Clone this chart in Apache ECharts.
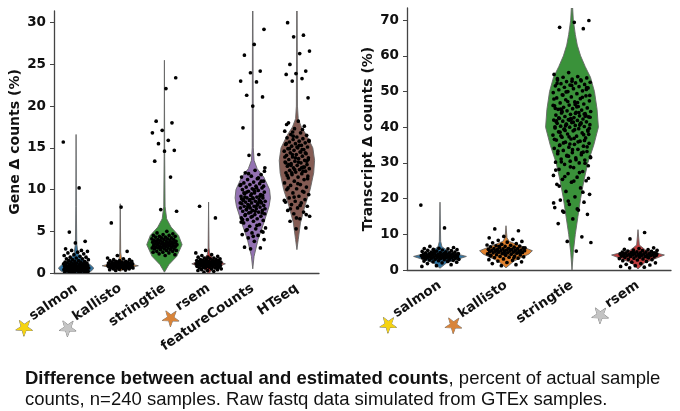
<!DOCTYPE html>
<html>
<head>
<meta charset="utf-8">
<script src="https://cdn.jsdelivr.net/npm/echarts@6/dist/echarts.min.js"></script>
<style>
html, body { margin: 0; padding: 0; background: #fff; }
#chart { width: 680px; height: 411px; }
</style>
</head>
<body>
<div id="chart"></div>
<script>
// categories
var geneTools = ['salmon', 'kallisto', 'stringtie', 'rsem', 'featureCounts', 'HTseq'];
var txTools = ['salmon', 'kallisto', 'stringtie', 'rsem'];
var geneColors = ['#3274A1', '#E1812C', '#3A923A', '#C03D3E', '#9372B2', '#845B53'];
var txColors = ['#3274A1', '#E1812C', '#3A923A', '#C03D3E'];
var geneStars = { salmon: 'gold', kallisto: 'silver', rsem: 'bronze' };
var txStars = { salmon: 'gold', kallisto: 'bronze', rsem: 'silver' };
var geneYMax = 31.4, geneYStep = 5;
var txYMax = 73.4, txYStep = 10;

// violin outlines: [value, density (fraction of category width)]
var geneSalmonShape = [[0, 0.26], [0.3, 0.36], [0.6, 0.4], [1.0, 0.32], [1.5, 0.18], [2.0, 0.08], [2.5, 0.04], [3.5, 0.015], [8, 0.006], [16.6, 0]];
var geneKallistoShape = [[0.2, 0], [0.5, 0.1], [0.87, 0.41], [1.2, 0.12], [1.6, 0.03], [2.5, 0.01], [8.3, 0]];
var geneStringtieShape = [[0.1, 0], [1, 0.1], [2, 0.28], [3.4, 0.4], [4.5, 0.32], [5.5, 0.15], [6.5, 0.05], [8, 0.015], [14, 0.006], [25.5, 0]];
var geneRsemShape = [[0, 0.02], [0.5, 0.1], [1.1, 0.38], [1.6, 0.12], [2.2, 0.03], [3, 0.01], [8.5, 0]];
var geneFeatureShape = [[0.5, 0], [2, 0.03], [4, 0.12], [6, 0.25], [8, 0.37], [9, 0.4], [10, 0.38], [11.5, 0.25], [12.5, 0.1], [13.5, 0.03], [15, 0.012], [31.4, 0.005]];
var geneHtseqShape = [[2.8, 0], [4, 0.03], [6, 0.08], [8, 0.18], [10, 0.3], [12, 0.38], [13.5, 0.4], [15, 0.36], [16.5, 0.22], [17.5, 0.1], [18.5, 0.03], [20, 0.012], [31.4, 0.005]];
var txSalmonShape = [[0.5, 0], [2, 0.1], [3.8, 0.4], [5, 0.15], [6.5, 0.03], [8, 0.01], [19, 0]];
var txKallistoShape = [[0.6, 0], [2.5, 0.12], [4.5, 0.35], [5.4, 0.4], [6.5, 0.25], [8, 0.05], [9, 0.015], [12.4, 0]];
var txStringtieShape = [[0, 0], [5, 0.02], [10, 0.05], [15, 0.09], [20, 0.13], [25, 0.18], [30, 0.24], [35, 0.33], [40, 0.4], [45, 0.38], [50, 0.34], [54, 0.28], [57, 0.2], [60, 0.13], [63, 0.08], [66, 0.05], [70, 0.02], [73.4, 0.01]];
var txRsemShape = [[0.3, 0], [2, 0.1], [4.2, 0.4], [5.5, 0.12], [7, 0.02], [11.3, 0]];

// sample values (%)
var geneSalmonPts = [15.7, 10.2, 4.9, 3.8, 3.6, 2.9, 2.7, 2.7, 2.6, 2.5, 2.4, 2.3, 2.2, 2.1, 2.0, 1.9, 1.9, 1.8, 1.7, 1.7, 1.6, 1.6, 1.5, 1.5, 1.4, 1.4, 1.3, 1.3, 1.3, 1.2, 1.2, 1.2, 1.1, 1.1, 1.1, 1.0, 1.0, 1.0, 1.0, 0.9, 0.9, 0.9, 0.9, 0.8, 0.8, 0.8, 0.8, 0.8, 0.7, 0.7, 0.7, 0.7, 0.7, 0.6, 0.6, 0.6, 0.6, 0.6, 0.6, 0.5, 0.5, 0.5, 0.5, 0.5, 0.5, 0.4, 0.4, 0.4, 0.4, 0.4, 0.3, 0.3, 0.3, 0.3, 0.3, 0.2, 0.2, 0.2, 0.2, 0.1, 0.1, 0.1, 0.1, 0.05, 0.05];
var geneKallistoPts = [7.9, 6.0, 2.6, 2.1, 1.8, 1.7, 1.6, 1.6, 1.5, 1.5, 1.4, 1.4, 1.4, 1.3, 1.3, 1.3, 1.3, 1.2, 1.2, 1.2, 1.2, 1.2, 1.1, 1.1, 1.1, 1.1, 1.1, 1.1, 1.0, 1.0, 1.0, 1.0, 1.0, 1.0, 1.0, 0.95, 0.95, 0.9, 0.9, 0.9, 0.9, 0.9, 0.9, 0.85, 0.85, 0.8, 0.8, 0.8, 0.8, 0.8, 0.75, 0.75, 0.7, 0.7, 0.7, 0.7, 0.65, 0.6, 0.6, 0.6, 0.55, 0.5, 0.5, 0.45, 0.4, 0.35, 0.3];
var geneStringtiePts = [23.4, 22.1, 18.2, 18.0, 17.1, 16.8, 15.9, 15.5, 14.7, 14.6, 13.4, 11.5, 7.6, 7.4, 5.0, 4.8, 4.7, 4.6, 4.5, 4.5, 4.4, 4.4, 4.3, 4.3, 4.2, 4.2, 4.1, 4.1, 4.0, 4.0, 4.0, 3.9, 3.9, 3.9, 3.8, 3.8, 3.8, 3.7, 3.7, 3.7, 3.6, 3.6, 3.6, 3.5, 3.5, 3.5, 3.5, 3.4, 3.4, 3.4, 3.3, 3.3, 3.3, 3.3, 3.2, 3.2, 3.2, 3.1, 3.1, 3.1, 3.0, 3.0, 3.0, 2.9, 2.9, 2.9, 2.8, 2.8, 2.7, 2.7, 2.6, 2.6, 2.5, 2.5, 2.4, 2.3, 2.2, 2.1];
var geneRsemPts = [8.0, 6.6, 2.7, 2.4, 2.2, 2.1, 2.0, 1.9, 1.9, 1.8, 1.8, 1.7, 1.7, 1.6, 1.6, 1.6, 1.5, 1.5, 1.5, 1.5, 1.4, 1.4, 1.4, 1.4, 1.3, 1.3, 1.3, 1.3, 1.3, 1.2, 1.2, 1.2, 1.2, 1.2, 1.1, 1.1, 1.1, 1.1, 1.1, 1.0, 1.0, 1.0, 1.0, 1.0, 0.9, 0.9, 0.9, 0.9, 0.8, 0.8, 0.8, 0.8, 0.7, 0.7, 0.7, 0.6, 0.6, 0.6, 0.5, 0.5, 0.4, 0.4, 0.3, 0.3, 0.2, 0.1];
var geneFeaturePts = [29.2, 27.4, 26.1, 24.2, 24.0, 23.0, 22.9, 21.3, 21.1, 20.0, 17.4, 14.2, 14.1, 12.6, 12.3, 12.0, 11.8, 11.6, 11.5, 11.3, 11.2, 11.0, 10.9, 10.8, 10.7, 10.6, 10.5, 10.4, 10.3, 10.2, 10.1, 10.0, 9.9, 9.8, 9.7, 9.6, 9.5, 9.4, 9.3, 9.2, 9.1, 9.0, 9.0, 8.9, 8.8, 8.8, 8.7, 8.6, 8.6, 8.5, 8.4, 8.4, 8.3, 8.2, 8.2, 8.1, 8.0, 8.0, 7.9, 7.8, 7.8, 7.7, 7.6, 7.5, 7.5, 7.4, 7.3, 7.2, 7.1, 7.0, 6.9, 6.8, 6.7, 6.6, 6.5, 6.4, 6.3, 6.2, 6.0, 5.8, 5.6, 5.4, 5.3, 5.1, 5.0, 4.8, 4.6, 4.5, 4.2, 4.0, 3.8, 3.1, 3.0, 2.9, 10.6, 10.2, 9.7, 9.3, 9.0, 8.7, 8.5, 8.1, 7.7, 7.4, 7.0, 11.0, 9.5, 8.9, 8.3, 7.9,
  10.4, 10.0, 9.6, 9.2, 8.8, 8.4, 8.0, 7.6, 7.2, 6.8, 6.4, 11.4, 11.9, 12.2, 9.8, 9.1, 8.6, 7.3, 6.1, 5.7, 5.2, 4.9, 4.4];
var geneHtseqPts = [30.0, 28.5, 28.3, 26.6, 26.3, 25.0, 24.2, 23.9, 23.8, 23.3, 23.0, 21.0, 18.2, 18.0, 17.6, 17.3, 17.0, 16.8, 16.6, 16.5, 16.3, 16.2, 16.1, 16.0, 15.9, 15.8, 15.7, 15.6, 15.5, 15.4, 15.3, 15.2, 15.1, 15.0, 14.9, 14.8, 14.7, 14.6, 14.5, 14.4, 14.3, 14.2, 14.1, 14.0, 13.9, 13.8, 13.7, 13.6, 13.5, 13.4, 13.3, 13.2, 13.1, 13.0, 12.9, 12.8, 12.7, 12.6, 12.5, 12.4, 12.3, 12.2, 12.1, 12.0, 11.9, 11.8, 11.6, 11.5, 11.4, 11.2, 11.0, 10.8, 10.6, 10.5, 10.3, 10.1, 10.0, 9.8, 9.6, 9.4, 9.2, 9.0, 8.8, 8.6, 8.5, 8.4, 8.2, 8.0, 7.8, 7.5, 7.3, 7.1, 6.8, 6.5, 6.2, 5.4, 5.3, 15.5, 14.8, 14.2, 13.6, 13.3, 13.0, 12.7, 12.4, 13.9, 14.5, 12.9, 13.4, 15.1, 11.7, 12.2,
  16.4, 15.8, 15.3, 14.9, 14.4, 13.8, 13.2, 12.6, 12.0, 11.3, 10.7, 10.2, 9.7, 9.1, 8.7, 8.1, 7.7, 7.0, 6.6, 17.8, 17.2, 16.9];
var txSalmonPts = [18.2, 11.8, 6.6, 6.3, 6.1, 6.0, 5.9, 5.8, 5.7, 5.6, 5.5, 5.4, 5.3, 5.2, 5.1, 5.0, 5.0, 4.9, 4.8, 4.8, 4.7, 4.6, 4.6, 4.5, 4.5, 4.4, 4.4, 4.3, 4.3, 4.2, 4.2, 4.1, 4.1, 4.0, 4.0, 4.0, 3.9, 3.9, 3.8, 3.8, 3.8, 3.7, 3.7, 3.6, 3.6, 3.5, 3.5, 3.4, 3.4, 3.3, 3.3, 3.2, 3.2, 3.1, 3.0, 3.0, 2.9, 2.8, 2.7, 2.6, 2.5, 2.4, 2.3, 2.2, 2.0, 1.8, 1.5, 1.2, 1.0, 4.6, 4.2, 3.9, 3.5, 3.1, 2.8, 5.2, 4.4, 3.7];
var txKallistoPts = [11.5, 11.0, 9.4, 9.0, 8.6, 8.3, 8.0, 7.8, 7.6, 7.4, 7.2, 7.0, 6.9, 6.8, 6.7, 6.6, 6.5, 6.4, 6.3, 6.2, 6.1, 6.0, 6.0, 5.9, 5.8, 5.8, 5.7, 5.6, 5.6, 5.5, 5.5, 5.4, 5.4, 5.3, 5.3, 5.2, 5.2, 5.1, 5.0, 5.0, 4.9, 4.8, 4.8, 4.7, 4.6, 4.5, 4.4, 4.3, 4.2, 4.1, 4.0, 3.9, 3.8, 3.7, 3.6, 3.5, 3.3, 3.1, 2.9, 2.7, 2.5, 2.3, 2.1, 1.8, 1.5, 1.2, 6.2, 5.7, 5.3, 4.9, 4.5, 4.0, 3.4, 6.6];
var txStringtiePts = [69.9, 69.4, 68.0, 67.6, 55.3, 54.8, 54.2, 54.0, 53.8, 53.5, 53.2, 53.0, 52.8, 52.6, 52.4, 52.2, 52.0, 51.8, 51.6, 51.4, 51.2, 51.0, 50.8, 50.5, 50.2, 50.0,
  49.7, 49.4, 49.1, 48.8, 48.5, 48.2, 48.0, 47.7, 47.4, 47.1, 46.8, 46.5, 46.2, 46.0, 45.8, 45.6, 45.4, 45.2, 45.0,
  44.8, 44.6, 44.4, 44.2, 44.0, 43.8, 43.6, 43.4, 43.2, 43.0, 42.9, 42.7, 42.5, 42.3, 42.1, 42.0, 41.9, 41.7, 41.5, 41.3, 41.1, 41.0, 40.9, 40.7, 40.5, 40.3, 40.2, 40.0,
  39.8, 39.6, 39.4, 39.2, 39.0, 38.7, 38.4, 38.1, 37.8, 37.5, 37.2, 37.0, 36.7, 36.4, 36.1, 35.8, 35.5, 35.2, 35.0,
  34.7, 34.4, 34.1, 33.8, 33.5, 33.2, 32.9, 32.6, 32.3, 32.0, 31.7, 31.4, 31.1, 30.8, 30.5, 30.2, 30.0,
  29.6, 29.2, 28.7, 28.2, 27.6, 27.0, 26.5, 26.0, 25.4, 25.0,
  24.6, 24.0, 23.0, 22.0, 21.2, 20.5, 19.6, 19.0, 18.4, 17.5, 16.8, 16.2, 15.6, 14.3, 13.0, 9.3, 8.0, 7.7, 5.3,
  44.9, 43.1, 42.4, 41.6, 40.6, 39.1, 38.0, 36.9, 34.9, 33.0, 31.9, 47.9, 46.9, 49.0, 51.1, 52.9, 53.6, 41.2, 40.8, 42.8, 43.9, 37.6, 36.3, 35.3, 45.3, 44.1, 39.5, 38.9, 41.4, 42.6,
  48.4, 47.2, 46.1, 45.7, 44.3, 43.3, 42.2, 41.8, 41.0, 40.4, 39.7, 39.3, 38.6, 37.9, 37.3, 36.6, 35.9, 35.6, 34.5, 33.7, 33.3, 32.8, 32.1, 31.5, 30.9, 30.3, 29.9, 28.9, 28.0, 27.3, 26.2, 25.7, 24.9, 23.5, 21.8, 19.3, 18.8, 17.1, 16.5, 50.6, 51.7, 52.3, 53.3, 49.9, 48.9, 46.4, 45.1, 43.7, 42.0, 40.1];
var txRsemPts = [10.5, 8.7, 6.2, 6.0, 5.8, 5.7, 5.6, 5.5, 5.4, 5.3, 5.2, 5.1, 5.0, 5.0, 4.9, 4.8, 4.8, 4.7, 4.6, 4.6, 4.5, 4.5, 4.4, 4.4, 4.3, 4.3, 4.2, 4.2, 4.1, 4.1, 4.0, 4.0, 3.9, 3.9, 3.8, 3.8, 3.7, 3.6, 3.5, 3.4, 3.3, 3.2, 3.1, 3.0, 2.9, 2.8, 2.6, 2.4, 2.2, 2.0, 1.8, 1.6, 1.4, 1.2, 1.0, 0.8, 0.6, 4.7, 4.3, 3.9, 3.6, 5.1, 4.5];

var geneShapes = [geneSalmonShape, geneKallistoShape, geneStringtieShape, geneRsemShape, geneFeatureShape, geneHtseqShape];
var txShapes = [txSalmonShape, txKallistoShape, txStringtieShape, txRsemShape];
var genePts = [geneSalmonPts, geneKallistoPts, geneStringtiePts, geneRsemPts, geneFeaturePts, geneHtseqPts];
var txPts = [txSalmonPts, txKallistoPts, txStringtiePts, txRsemPts];

function toPoints(lists) {
  var out = [];
  lists.forEach(function (l, c) {
    l.forEach(function (v) { out.push([c, v]); });
  });
  return out;
}

function violinItem(shapes, colors) {
  return function (params, api) {
    var cat = api.value(0);
    var bw = api.size([1, 0])[0];
    var right = [], left = [];
    shapes[cat].forEach(function (s) {
      var p = api.coord([cat, s[0]]);
      right.push([p[0] + s[1] * bw, p[1]]);
      left.unshift([p[0] - s[1] * bw, p[1]]);
    });
    return {
      type: 'polygon',
      shape: { points: right.concat(left) },
      style: { fill: colors[cat], stroke: '#666', lineWidth: 0.9 }
    };
  };
}

// strip plot jitter
function pointItem(params, api) {
  var cat = api.value(0);
  var p = api.coord([cat, api.value(1)]);
  var bw = api.size([1, 0])[0];
  var j = ((params.dataIndex * 0.6180339887) % 1 - 0.5) * 0.58 * bw;
  return {
    type: 'circle',
    shape: { cx: p[0] + j, cy: p[1], r: 1.85 },
    style: { fill: '#000' }
  };
}

function star(color) {
  return { color: color, fontSize: 22, fontFamily: 'DejaVu Sans', textBorderColor: '#777', textBorderWidth: 0.8, padding: [12, 1, 0, 0] };
}
var starRich = { gold: star('#F5D311'), silver: star('#C4C4C4'), bronze: star('#D8843A') };

function xAxisFor(idx, tools, stars) {
  return {
    type: 'category', gridIndex: idx, data: tools,
    axisLine: { lineStyle: { color: '#444', width: 1.3 } },
    axisTick: { alignWithLabel: true, length: 4, lineStyle: { color: '#444' } },
    axisLabel: {
      interval: 0, rotate: 34, margin: 14,
      fontFamily: 'DejaVu Sans', fontWeight: 'bold', fontSize: 13.5, color: '#111',
      formatter: function (v) { return stars[v] ? '{' + stars[v] + '|★}' + v : v; },
      rich: starRich
    }
  };
}

function yAxisFor(idx, name, max, step) {
  return {
    type: 'value', gridIndex: idx, min: 0, max: max, interval: step,
    name: name, nameLocation: 'middle', nameGap: 32,
    nameTextStyle: { fontFamily: 'DejaVu Sans', fontWeight: 'bold', fontSize: 14, color: '#111' },
    splitLine: { show: false },
    axisLine: { show: true, lineStyle: { color: '#444', width: 1.3 } },
    axisTick: { show: true, length: 4, lineStyle: { color: '#444' } },
    axisLabel: { showMaxLabel: false, margin: 8, fontFamily: 'DejaVu Sans', fontWeight: 'bold', fontSize: 13.5, color: '#111' }
  };
}

var chart = echarts.init(document.getElementById('chart'));
var option = {
  animation: false,
  backgroundColor: '#fff',
  title: {
    text: '{b|Difference between actual and estimated counts}{n|, percent of actual sample}\n{n|counts, n=240 samples. Raw fastq data simulated from GTEx samples.}',
    left: 20, top: 363,
    textStyle: {
      fontWeight: 'normal',
      rich: {
        b: { fontFamily: 'Liberation Sans', fontWeight: 'bold', fontSize: 18.5, lineHeight: 21, color: '#111' },
        n: { fontFamily: 'Liberation Sans', fontWeight: 'normal', fontSize: 18.5, lineHeight: 21, color: '#111' }
      }
    }
  },
  grid: [
    { left: 54, width: 265, top: 11, bottom: 138 },
    { left: 407, width: 264, top: 8, bottom: 141 }
  ],
  xAxis: [xAxisFor(0, geneTools, geneStars), xAxisFor(1, txTools, txStars)],
  yAxis: [
    yAxisFor(0, 'Gene Δ counts (%)', geneYMax, geneYStep),
    yAxisFor(1, 'Transcript Δ counts (%)', txYMax, txYStep)
  ],
  series: [
    { type: 'custom', xAxisIndex: 0, yAxisIndex: 0, clip: true, renderItem: violinItem(geneShapes, geneColors), data: geneTools.map(function (t, i) { return [i]; }) },
    { type: 'custom', xAxisIndex: 1, yAxisIndex: 1, clip: true, renderItem: violinItem(txShapes, txColors), data: txTools.map(function (t, i) { return [i]; }) },
    { type: 'custom', xAxisIndex: 0, yAxisIndex: 0, clip: true, renderItem: pointItem, data: toPoints(genePts), z: 3 },
    { type: 'custom', xAxisIndex: 1, yAxisIndex: 1, clip: true, renderItem: pointItem, data: toPoints(txPts), z: 3 }
  ]
};
chart.setOption(option);
</script>
</body>
</html>
